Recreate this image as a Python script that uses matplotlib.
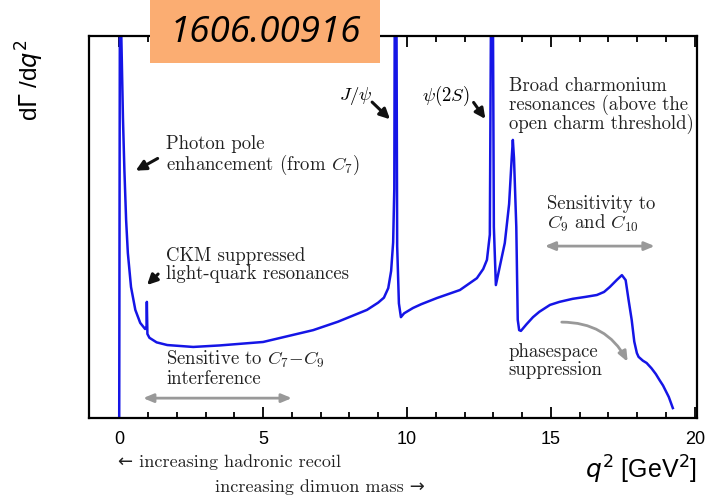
import matplotlib
matplotlib.use("Agg")
from matplotlib import pyplot as plt, patches

plt.rcParams['mathtext.fontset'] = 'cm'

# curve (arbitrary units, 0..10 = full axis height)
q2 = [0.00, 0.03, 0.06, 0.13, 0.18, 0.24, 0.30, 0.41, 0.56, 0.73, 0.90, 0.95, 0.96, 0.98,
      1.05, 1.30, 1.67, 2.57, 3.50, 5.00, 6.74, 7.60, 8.61, 9.00, 9.20, 9.35, 9.45, 9.52,
      9.56, 9.58, 9.63, 9.66, 9.72, 9.79, 9.90, 10.21, 10.50, 11.04, 11.84, 12.43, 12.65,
      12.78, 12.88, 12.93, 12.98, 13.02, 13.09, 13.25, 13.40, 13.55, 13.64, 13.68, 13.72,
      13.80, 13.85, 13.90, 13.96, 14.15, 14.38, 14.60, 14.97, 15.30, 15.76, 16.20, 16.60,
      16.85, 17.05, 17.30, 17.47, 17.60, 17.70, 17.81, 17.90, 17.99, 18.05, 18.20, 18.33,
      18.50, 18.65, 18.78, 18.90, 19.00, 19.10, 19.24]
rate = [0.00, 14.0, 10.5, 7.85, 6.49, 5.18, 4.32, 3.43, 2.83, 2.49, 2.33, 2.40, 3.04, 2.20,
        2.10, 1.98, 1.91, 1.86, 1.90, 1.99, 2.30, 2.52, 2.83, 3.02, 3.15, 3.40, 3.85, 4.60,
        6.00, 12.0, 12.0, 4.50, 3.00, 2.64, 2.74, 2.88, 2.98, 3.14, 3.35, 3.66, 3.90,
        4.14, 4.80, 12.0, 12.0, 5.00, 3.48, 4.05, 4.58, 5.60, 6.80, 7.28, 6.80,
        5.00, 2.57, 2.30, 2.28, 2.45, 2.64, 2.78, 2.96, 3.04, 3.12, 3.17, 3.22,
        3.30, 3.43, 3.62, 3.74, 3.61, 3.10, 2.57, 2.00, 1.70, 1.60, 1.50, 1.44,
        1.30, 1.15, 0.99, 0.85, 0.70, 0.55, 0.26]

major_ticks = [0, 5, 10, 15, 20]
minor_ticks = list(range(0, 21))

W, H = 723, 498
fig = plt.figure(figsize=(W/100, H/100), dpi=100)
ax = fig.add_axes([89/W, 1-418/H, (697-89)/W, (418-36)/H])

ax.plot(q2, rate, color='#1515e6', lw=1.8, solid_joinstyle='round')
ax.set_xlim(-1.05, 20.08)
ax.set_ylim(0, 10)

for s in ax.spines.values():
    s.set_linewidth(1.6)
ax.set_yticks([])
ax.set_xticks(major_ticks)
ax.set_xticks(minor_ticks, minor=True)
ax.tick_params(axis='x', which='both', direction='in', top=True, width=1.3, pad=9,
               labelsize=13)
ax.tick_params(axis='x', which='major', length=8)
ax.tick_params(axis='x', which='minor', length=4)
for lab in ax.get_xticklabels():
    lab.set_family('Liberation Sans')

serif = ['cmr10', 'DejaVu Serif']
fs = 13.5
txt = dict(fontsize=fs, family=serif, color='#222222', linespacing=0.95)

def blk(x, y, s, **kw):
    ax.text(x, y, s, va='top', ha='left', **dict(txt, **kw))

blk(1.63, 7.40, "Photon pole\nenhancement (from $C_7$)")
blk(1.63, 4.47, "CKM suppressed\nlight-quark resonances")
blk(1.63, 1.80, "Sensitive to $C_7{-}C_9$\ninterference")
blk(13.54, 8.92, "Broad charmonium\nresonances (above the\nopen charm threshold)")
blk(14.86, 5.83, "Sensitivity to\n$C_9$ and $C_{10}$")
blk(13.54, 1.95, "phasespace\nsuppression")
ax.text(8.23, 8.44, r"$J/\psi$", ha='center', va='center', fontsize=fs)
ax.text(11.35, 8.44, r"$\psi(2S)$", ha='center', va='center', fontsize=fs)

black = dict(arrowstyle='-|>,head_length=0.6,head_width=0.3', color='#111111', lw=2.2)
for a, b in [((1.42, 6.83), (0.49, 6.44)), ((1.42, 3.82), (0.90, 3.43)),
             ((8.72, 8.32), (9.48, 7.77)), ((12.26, 8.32), (12.78, 7.77))]:
    ax.annotate("", xy=b, xytext=a, arrowprops=black)

gray = dict(arrowstyle='<|-|>,head_length=0.6,head_width=0.25', color='#999999', lw=2,
            shrinkA=0, shrinkB=0)
ax.annotate("", xy=(6.0, 0.52), xytext=(0.83, 0.52), arrowprops=gray)
ax.annotate("", xy=(18.61, 4.50), xytext=(14.79, 4.50), arrowprops=gray)
ax.annotate("", xy=(17.67, 1.47), xytext=(15.38, 2.51),
            arrowprops=dict(arrowstyle='-|>,head_length=0.6,head_width=0.25', color='#999999',
                            lw=2, shrinkA=0, shrinkB=0, connectionstyle='arc3,rad=-0.3'))

# axis labels
fig.text(30/W, 1-80/H, r"d$\Gamma$ /d$q^2$", rotation=90, ha='center', va='center',
         fontsize=17.5, family='Liberation Sans', math_fontfamily='dejavusans')
fig.text(697/W, 1-470/H, r"$q^2$ [GeV$^2$]", ha='right', va='center',
         fontsize=18, family='Liberation Sans', math_fontfamily='dejavusans')

fig.text(118/W, 1-462/H, "\u2190 increasing hadronic recoil", ha='left', va='center',
         fontsize=13, family=['cmr10', 'DejaVu Sans'], color='#222222')
fig.text(425/W, 1-487/H, "increasing dimuon mass \u2192", ha='right', va='center',
         fontsize=13, family=['cmr10', 'DejaVu Sans'], color='#222222')

# arXiv id badge
fig.patches.append(patches.Rectangle((150/W, 1-63/H), 230/W, 63/H, transform=fig.transFigure,
                                     facecolor='#fbad72', edgecolor='none', zorder=5))
fig.text(265/W, 1-33/H, "1606.00916", ha='center', va='center', fontsize=26.5,
         style='italic', family='Open Sans', zorder=6)

fig.savefig("out.png", dpi=100)
